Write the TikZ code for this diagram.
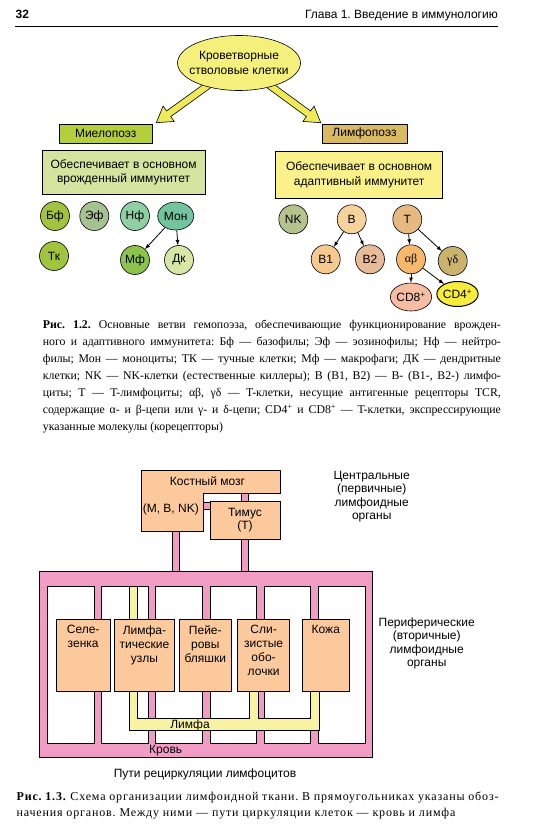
\documentclass[tikz,border=0pt]{standalone}
\usepackage{fontspec}
\setmainfont{Liberation Serif}
\setsansfont{Liberation Sans}
\usetikzlibrary{arrows,calc,shapes.geometric}

\definecolor{stemyellow}{HTML}{F5EF7C}
\definecolor{arrowyellow}{HTML}{EFEA58}
\definecolor{myelogreen}{HTML}{B3CF3C}
\definecolor{lymphtan}{HTML}{D8BA62}
\definecolor{innategreen}{HTML}{D5E39E}
\definecolor{adaptyellow}{HTML}{FBF18B}
\definecolor{bfgreen}{HTML}{A1C43E}
\definecolor{efgreen}{HTML}{A6C290}
\definecolor{nfgreen}{HTML}{8ECFA3}
\definecolor{mongreen}{HTML}{72C39E}
\definecolor{mfgreen}{HTML}{8BC34D}
\definecolor{dkgreen}{HTML}{D7E8A6}
\definecolor{nkolive}{HTML}{B4C28D}
\definecolor{borange}{HTML}{F6D39C}
\definecolor{torange}{HTML}{E6B983}
\definecolor{bonetan}{HTML}{F5C98F}
\definecolor{btwopink}{HTML}{E8BB9A}
\definecolor{aborange}{HTML}{F5B86D}
\definecolor{gdolive}{HTML}{CBB36E}
\definecolor{cdeightsalmon}{HTML}{F7BDA2}
\definecolor{cdfouryellow}{HTML}{F5EC3C}
\definecolor{organorange}{HTML}{FBC99C}
\definecolor{bloodpink}{HTML}{F19CC5}
\definecolor{lymphyellow}{HTML}{F8F3A3}

\newcommand\justline[2][458pt]{\makebox[#1][s]{#2}}
\frenchspacing

\pgfdeclarelayer{back}
\pgfsetlayers{back,main}

\begin{document}
\begin{tikzpicture}[x=1pt,y=1pt,>=latex,
    every node/.style={font=\sffamily\fontsize{12}{14}\selectfont},
    stemcell/.style={ellipse,draw,line width=0.6pt,fill=stemyellow,minimum width=123pt,minimum height=55pt,inner sep=0pt},
    procbox/.style={rectangle,draw,line width=0.6pt,inner sep=0pt},
    infobox/.style={rectangle,draw,line width=0.6pt,inner sep=0pt,align=center,font=\sffamily\fontsize{12}{14.5}\selectfont},
    cell/.style={circle,draw,line width=0.6pt,minimum size=29pt,inner sep=0pt},
    ovalcell/.style={ellipse,draw,line width=0.6pt,inner sep=0pt},
    link/.style={->,line width=0.8pt},
    bigarrow/.style={draw=black,line width=0.6pt,fill=arrowyellow,
      to path={let \p1=(\tikztostart), \p2=(\tikztotarget),
        \n1={atan2(\y2-\y1,\x2-\x1)}, \n2={veclen(\x2-\x1,\y2-\y1)-15} in
        ($(\p1)+(\n1+90:3.5)$) -- ($(\p1)+(\n1:\n2)+(\n1+90:3.5)$)
        -- ($(\p1)+(\n1:\n2)+(\n1+90:9.5)$) -- (\p2)
        -- ($(\p1)+(\n1:\n2)+(\n1-90:9.5)$) -- ($(\p1)+(\n1:\n2)+(\n1-90:3.5)$)
        -- ($(\p1)+(\n1-90:3.5)$) -- cycle}},
    organ/.style={rectangle,draw,line width=0.6pt,fill=organorange,inner sep=0pt,anchor=north west},
    organlab/.style={anchor=north,align=center,inner sep=0pt,yshift=-6pt,font=\sffamily\fontsize{12}{13.9}\selectfont},
    pinkpipe/.style={draw,line width=0.6pt,fill=bloodpink},
    lymphpipe/.style={draw,line width=0.6pt,fill=lymphyellow},
    sidetext/.style={align=center,inner sep=0pt,font=\sffamily\fontsize{12}{13.5}\selectfont},
    capline/.style={anchor=base west,inner sep=0pt,font=\rmfamily\fontsize{11.8}{14}\selectfont},
    capwide/.style={capline,font=\rmfamily\fontsize{12}{14}\selectfont\addfontfeature{LetterSpace=7}}]

  \begin{pgfonlayer}{back}
    \fill[white] (0,0) rectangle (536,-834);
  \end{pgfonlayer}
  \useasboundingbox (0,0) rectangle (536,-834);

  % running head
  \node[anchor=base west,inner sep=0pt,font=\sffamily\bfseries\fontsize{12}{14}\selectfont] (pgnum) at (15.4,-18.5) {32};
  \node[anchor=base east,inner sep=0pt] (chap) at (498,-18.5) {Глава 1. Введение в иммунологию};
  \draw[line width=0.9pt] (15.4,-26.7) -- (498,-26.7);

  % Fig. 1.2
  \node[stemcell,label={[align=center,inner sep=0pt,font=\sffamily\fontsize{12}{15}\selectfont]center:{Кроветворные\\стволовые клетки}}] (stem) at (239,-63) {};
  \node[procbox,fill=myelogreen,minimum width=92.5pt,minimum height=19pt] (myelo) at (105.75,-133.5) {Миелопоэз};
  \node[procbox,fill=lymphtan,minimum width=85pt,minimum height=19pt] (lympho) at (364.5,-133.5) {Лимфопоэз};
  \coordinate (mtip) at ($(myelo.north east)+(4,1)$);
  \coordinate (ltip) at ($(lympho.north west)+(-1,1)$);
  \begin{pgfonlayer}{back}
    \draw[bigarrow] (stem) to (mtip);
    \draw[bigarrow] (stem) to (ltip);
  \end{pgfonlayer}

  \node[infobox,fill=innategreen,minimum width=162.7pt,minimum height=43.3pt] (innate) at (123.6,-172.3) {Обеспечивает в основном\\врожденный иммунитет};
  \node[infobox,fill=adaptyellow,minimum width=167pt,minimum height=46.6pt] (adapt) at (359.2,-175) {Обеспечивает в основном\\адаптивный иммунитет};

  % myeloid cells
  \node[cell,fill=bfgreen] (bf) at (55,-216) {Бф};
  \node[cell,fill=efgreen] (ef) at (94.3,-216) {Эф};
  \node[cell,fill=nfgreen] (nf) at (135,-216) {Нф};
  \node[ovalcell,fill=mongreen,minimum width=36pt,minimum height=28pt] (mon) at (175.7,-216) {Мон};
  \node[cell,fill=bfgreen] (tk) at (54,-256) {Тк};
  \node[cell,fill=mfgreen] (mf) at (135,-260) {Мф};
  \node[cell,fill=dkgreen] (dk) at (179,-260) {Дк};
  \draw[link] (mon) -- (mf);
  \draw[link] (mon) -- (dk);

  % lymphoid cells
  \node[cell,fill=nkolive] (nk) at (293.3,-219.3) {NK};
  \node[cell,fill=borange] (bcell) at (351.7,-219.3) {B};
  \node[cell,fill=torange] (tcell) at (407.3,-219.3) {T};
  \node[cell,fill=bonetan] (bone) at (325.7,-259.3) {B1};
  \node[cell,fill=btwopink] (btwo) at (370,-259.3) {B2};
  \node[cell,fill=aborange] (ab) at (411,-259.3) {\rmfamily αβ};
  \node[cell,fill=gdolive] (gd) at (452.7,-261) {\rmfamily γδ};
  \node[ovalcell,fill=cdeightsalmon,minimum width=41pt,minimum height=28pt] (cdeight) at (411,-297) {CD8\textsuperscript{+}};
  \node[ovalcell,fill=cdfouryellow,line width=1pt,minimum width=38pt,minimum height=25pt] (cdfour) at (457.5,-294) {CD4\textsuperscript{+}};
  \draw[link] (bcell) -- (bone);
  \draw[link] (bcell) -- (btwo);
  \draw[link] (tcell) -- (ab);
  \draw[link] (tcell) -- (gd);
  \draw[link] (ab) -- (cdeight);
  \draw[link] (ab) -- (cdfour);

  % caption 1.2
  \foreach \capl [count=\i from 0] in {%
    {\justline{\textbf{Рис. 1.2.} Основные ветви гемопоэза, обеспечивающие функционирование врожден-}},
    {\justline{ного и адаптивного иммунитета: Бф — базофилы; Эф — эозинофилы; Нф — нейтро-}},
    {\justline{филы; Мон — моноциты; ТК — тучные клетки; Мф — макрофаги; ДК — дендритные}},
    {\justline{клетки; NK — NK-клетки (естественные киллеры); B (B1, B2) — B- (B1-, B2-) лимфо-}},
    {\justline{циты; T — T-лимфоциты; αβ, γδ — T-клетки, несущие антигенные рецепторы TCR,}},
    {\justline{содержащие α- и β-цепи или γ- и δ-цепи; CD4\textsuperscript{+} и CD8\textsuperscript{+} — T-клетки, экспрессирующие}},
    {указанные молекулы (корецепторы)}}
    \node[capline] (capa\i) at (42.7,{-328.5-17*\i}) {\capl};

  % Fig. 1.3: central organs
  \draw[pinkpipe] (172,-531.7) rectangle (179,-571.7);
  \draw[pinkpipe] (241.7,-493.3) rectangle (248.3,-501.7);
  \draw[pinkpipe] (241.7,-539.3) rectangle (248.3,-571.7);
  \draw[pinkpipe] (203.3,-502) rectangle (210,-509);
  \draw[line width=0.6pt,fill=organorange] (141,-470.7) -- (280,-470.7) -- (280,-493.3) -- (203.3,-493.3)
    -- (203.3,-531.7) -- (141,-531.7) -- cycle;
  \node (marrow) at (207.5,-481) {Костный мозг};
  \node (marrowcells) at (170.8,-509.3) {(M, B, NK)};
  \node[procbox,fill=organorange,minimum width=70pt,minimum height=37.6pt,align=center,font=\sffamily\fontsize{12}{13}\selectfont] (thymus) at (245,-520.5) {Тимус\\(T)};
  \node[sidetext] (central) at (371.7,-496.4) {Центральные\\(первичные)\\лимфоидные\\органы};

  % Fig. 1.3: blood frame and peripheral organs
  \draw[pinkpipe] (39.3,-571.7) rectangle (372.7,-757.3);
  \foreach \i in {0,...,5}
    \draw[line width=0.6pt,fill=white] ({47.3+54.2*\i},-586) rectangle ++(46.5,-157.3);
  \draw[lymphpipe] (129,-586.7) rectangle (137.3,-619.3);
  \draw[lymphpipe] (129,-691) -- (129,-730) -- (319.3,-730) -- (319.3,-691) -- (310,-691) -- (310,-718.3)
    -- (258.3,-718.3) -- (258.3,-691) -- (249.3,-691) -- (249.3,-718.3) -- (137.3,-718.3) -- (137.3,-691) -- cycle;
  \node[organ,minimum width=54.3pt,minimum height=71.7pt,label={[organlab]north:{Селе-\\зенка}}] (spleen) at (55.7,-619.3) {};
  \node[organ,minimum width=60.3pt,minimum height=71.7pt,label={[organlab]north:{Лимфа-\\тические\\узлы}}] (nodes) at (114,-619.3) {};
  \node[organ,minimum width=52pt,minimum height=71.7pt,label={[organlab]north:{Пейе-\\ровы\\бляшки}}] (peyer) at (179,-619.3) {};
  \node[organ,minimum width=52pt,minimum height=71.7pt,label={[organlab]north:{Сли-\\зистые\\обо-\\лочки}}] (mucosa) at (237.3,-619.3) {};
  \node[organ,minimum width=47.6pt,minimum height=71.7pt,label={[organlab]north:{Кожа}}] (skin) at (301.7,-619.3) {};
  \node (lymph) at (190,-725) {Лимфа};
  \node (blood) at (165.7,-750.7) {Кровь};
  \node[sidetext] (periph) at (426.7,-643.3) {Периферические\\(вторичные)\\лимфоидные\\органы};
  \node (routes) at (205,-774) {Пути рециркуляции лимфоцитов};

  % caption 1.3
  \node[capwide] (capb0) at (16.4,-800.6) {\justline[482pt]{\textbf{Рис. 1.3.} Схема организации лимфоидной ткани. В прямоугольниках указаны обоз-}};
  \node[capwide] (capb1) at (16.4,-816) {начения органов. Между ними — пути циркуляции клеток — кровь и лимфа};
\end{tikzpicture}
\end{document}
